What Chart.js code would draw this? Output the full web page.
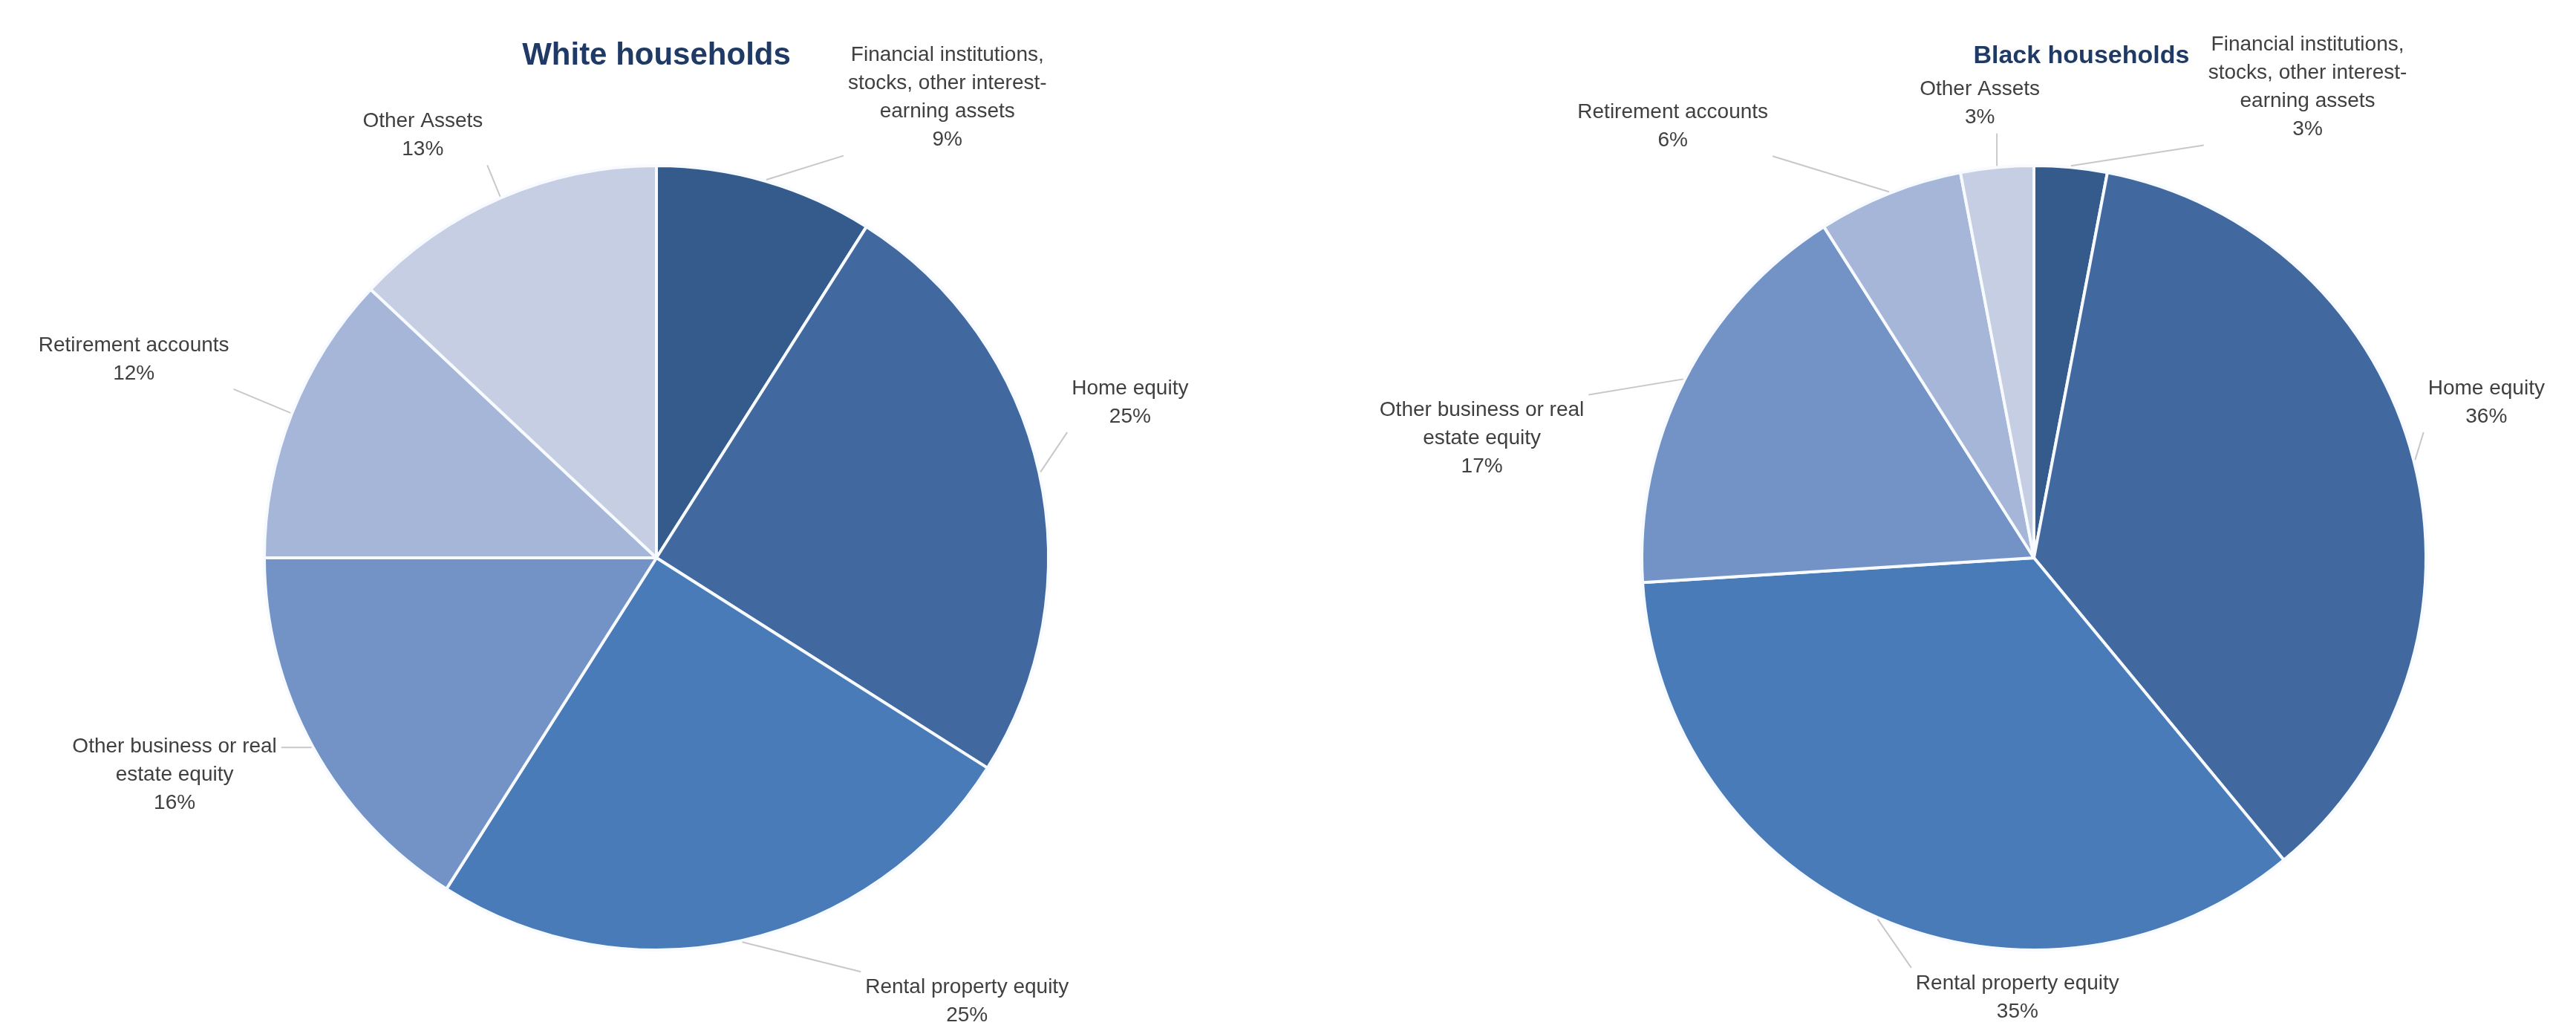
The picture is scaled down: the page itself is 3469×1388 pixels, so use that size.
<!DOCTYPE html>
<html>
<head>
<meta charset="utf-8">
<title>Composition of household wealth</title>
<script src="https://cdn.jsdelivr.net/npm/chart.js@4.4.1/dist/chart.umd.min.js"></script>
<style>
  html, body { margin: 0; padding: 0; background: #ffffff; }
  body { width: 3469px; height: 1388px; position: relative; overflow: hidden; }
  .pie { position: absolute; top: 0; height: 1388px; }
  #whiteWrap { left: 0; width: 1768px; }
  #blackWrap { left: 1734px; width: 1735px; }
</style>
</head>
<body>
<div class="pie" id="whiteWrap"><canvas id="whiteChart"></canvas></div>
<div class="pie" id="blackWrap"><canvas id="blackChart"></canvas></div>
<script>
// categories, clockwise from 12 o'clock (one entry per label line)
const whiteCategories = [
    ['Financial institutions,', 'stocks, other interest-', 'earning assets'],
    ['Home equity'],
    ['Rental property equity'],
    ['Other business or real', 'estate equity'],
    ['Retirement accounts'],
    ['Other Assets'],
];
const blackCategories = [
    ['Financial institutions,', 'stocks, other interest-', 'earning assets'],
    ['Home equity'],
    ['Rental property equity'],
    ['Other business or real', 'estate equity'],
    ['Retirement accounts'],
    ['Other Assets'],
];

// share of total assets, %
const whiteShares = [9, 25, 25, 16, 12, 13];
const blackShares = [3, 36, 35, 17, 6, 3];

const whiteTitle = 'White households';
const blackTitle = 'Black households';

// slice colours, dark navy -> pale blue
const sliceColors = ['#355b8c', '#41699f', '#4a7bb9', '#7393c6', '#a5b6d8', '#c5cee3'];

// label block centres, measured in pie radii from the pie centre
const whiteLabelPos = [[0.742, -1.173], [1.208, -0.396], [0.792, 1.131], [-1.229, 0.554], [-1.333, -0.506], [-0.596, -1.077]];
const blackLabelPos = [[0.698, -1.200], [1.154, -0.396], [-0.042, 1.121], [-1.408, -0.304], [-0.921, -1.100], [-0.138, -1.158]];
const whiteTitlePos = [0, -1.279];
const blackTitlePos = [0.121, -1.279];

const LABEL_FONT = '28px "Liberation Sans", Arial, sans-serif';
const LINE_H = 38;

/**
 * 外側ラベル + 引き出し線 + タイトル
 */
const outsideLabels = {
    id: 'outsideLabels',
    afterDatasetsDraw(chart, args, opts) {
        const ctx = chart.ctx;
        const meta = chart.getDatasetMeta(0);
        const values = chart.data.datasets[0].data;

        ctx.save();
        meta.data.forEach((arc, i) => {
            const p = arc.getProps(['x', 'y', 'startAngle', 'endAngle', 'outerRadius'], true);
            const R = p.outerRadius;
            const mid = (p.startAngle + p.endAngle) / 2;
            const ax = p.x + Math.cos(mid) * (R + 2);
            const ay = p.y + Math.sin(mid) * (R + 2);

            const lines = chart.data.labels[i].concat([values[i] + '%']);
            const lx = p.x + opts.positions[i][0] * R;
            const ly = p.y + opts.positions[i][1] * R;

            ctx.font = LABEL_FONT;
            const w = Math.max(...lines.map(s => ctx.measureText(s).width));
            const h = lines.length * LINE_H;

            // 引き出し線: 円弧の中点からラベル枠の最寄り点まで
            const bx = Math.min(Math.max(ax, lx - w / 2 - 6), lx + w / 2 + 6);
            const by = Math.min(Math.max(ay, ly - h / 2 - 2), ly + h / 2 + 2);
            if (Math.hypot(bx - ax, by - ay) > 12) {
                ctx.strokeStyle = '#c8c8c8';
                ctx.lineWidth = 2;
                ctx.beginPath();
                ctx.moveTo(ax, ay);
                ctx.lineTo(bx, by);
                ctx.stroke();
            }

            ctx.fillStyle = '#404040';
            ctx.textAlign = 'center';
            ctx.textBaseline = 'middle';
            lines.forEach((s, k) => {
                ctx.fillText(s, lx, ly - h / 2 + LINE_H * (k + 0.5));
            });
        });

        const first = meta.data[0].getProps(['x', 'y', 'outerRadius'], true);
        ctx.font = opts.titleFont;
        ctx.fillStyle = '#1f3a64';
        ctx.textAlign = 'center';
        ctx.textBaseline = 'middle';
        ctx.fillText(opts.title, first.x + opts.titlePos[0] * first.outerRadius,
            first.y + opts.titlePos[1] * first.outerRadius);
        ctx.restore();
    },
};

function makePie(canvasId, categories, shares, title, titleFont, titlePos, labelPos, padLeft) {
    return new Chart(document.getElementById(canvasId), {
        type: 'pie',
        data: {
            labels: categories,
            datasets: [{
                data: shares,
                backgroundColor: sliceColors,
                borderColor: '#f7faff',
                borderWidth: 4,
            }],
        },
        options: {
            responsive: true,
            maintainAspectRatio: false,
            animation: false,
            layout: {
                padding: { top: 221, bottom: 107, left: padLeft, right: 0 },
            },
            plugins: {
                legend: { display: false },
                tooltip: { enabled: false },
                outsideLabels: { positions: labelPos, title: title, titleFont: titleFont, titlePos: titlePos },
            },
        },
        plugins: [outsideLabels],
    });
}

makePie('whiteChart', whiteCategories, whiteShares, whiteTitle,
    'bold 42px "Liberation Sans", Arial, sans-serif', whiteTitlePos, whiteLabelPos, 0);
makePie('blackChart', blackCategories, blackShares, blackTitle,
    'bold 34px "Liberation Sans", Arial, sans-serif', blackTitlePos, blackLabelPos, 275);
</script>
</body>
</html>
